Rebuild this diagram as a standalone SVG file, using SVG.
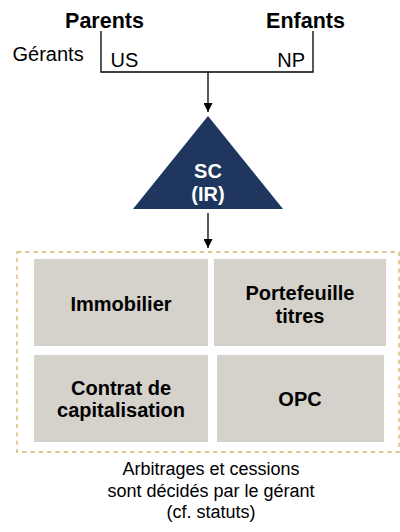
<svg xmlns="http://www.w3.org/2000/svg" width="400" height="532" viewBox="0 0 400 532">
<defs>
<style>
.t{font-family:"Liberation Sans",Arial,sans-serif;fill:#000}
.b{font-weight:bold}
.w{fill:#fff}
.box{fill:#D5D1CB}
.ln{stroke:#000;stroke-width:1.3;fill:none}
</style>
<marker id="ah" viewBox="0 0 10 10" refX="10" refY="5" markerWidth="9" markerHeight="9" markerUnits="userSpaceOnUse" orient="auto">
<path d="M0,0 L10,5 L0,10 z" fill="#000"/>
</marker>
</defs>
<rect width="400" height="532" fill="#fff"/>
<g id="header">
<text class="t b" x="104.5" y="28" font-size="21.5" text-anchor="middle">Parents</text>
<text class="t b" x="305.5" y="28" font-size="21.5" text-anchor="middle">Enfants</text>
<text class="t" x="12.5" y="61" font-size="20">Gérants</text>
<text class="t" x="110.5" y="66.5" font-size="20">US</text>
<text class="t" x="305" y="66.5" font-size="20" text-anchor="end">NP</text>
</g>
<g id="connectors">
<path class="ln" d="M101,31 V72 H313 V31"/>
<path class="ln" d="M208,72 V112" marker-end="url(#ah)"/>
<path class="ln" d="M208,213 V248" marker-end="url(#ah)"/>
</g>
<g id="sc">
<polygon points="208,116 283,209 133,209" fill="#1F365E"/>
<text class="t b w" x="208" y="177.5" font-size="20" text-anchor="middle">SC</text>
<text class="t b w" x="208" y="201" font-size="20" text-anchor="middle">(IR)</text>
</g>
<g id="group">
<rect x="17" y="252" width="382" height="200" fill="none" stroke="#D9AE6E" stroke-width="1.3" stroke-dasharray="4.3,4"/>
</g>
<g id="immobilier">
<rect class="box" x="34" y="259" width="174" height="87"/>
<text class="t b" x="121" y="311" font-size="20" text-anchor="middle">Immobilier</text>
</g>
<g id="portefeuille">
<rect class="box" x="214" y="259" width="172" height="87"/>
<text class="t b" x="300" y="300" font-size="20" text-anchor="middle">Portefeuille</text>
<text class="t b" x="300" y="323" font-size="20" text-anchor="middle">titres</text>
</g>
<g id="contrat">
<rect class="box" x="34" y="355" width="174" height="87"/>
<text class="t b" x="121" y="395" font-size="20" text-anchor="middle">Contrat de</text>
<text class="t b" x="121" y="417" font-size="20" text-anchor="middle">capitalisation</text>
</g>
<g id="opc">
<rect class="box" x="217" y="355" width="167" height="87"/>
<text class="t b" x="300" y="406" font-size="20" text-anchor="middle">OPC</text>
</g>
<g id="note">
<text class="t" x="211" y="475" font-size="18" text-anchor="middle">Arbitrages et cessions</text>
<text class="t" x="211" y="497" font-size="18" text-anchor="middle">sont décidés par le gérant</text>
<text class="t" x="211" y="518" font-size="18" text-anchor="middle">(cf. statuts)</text>
</g>
</svg>
